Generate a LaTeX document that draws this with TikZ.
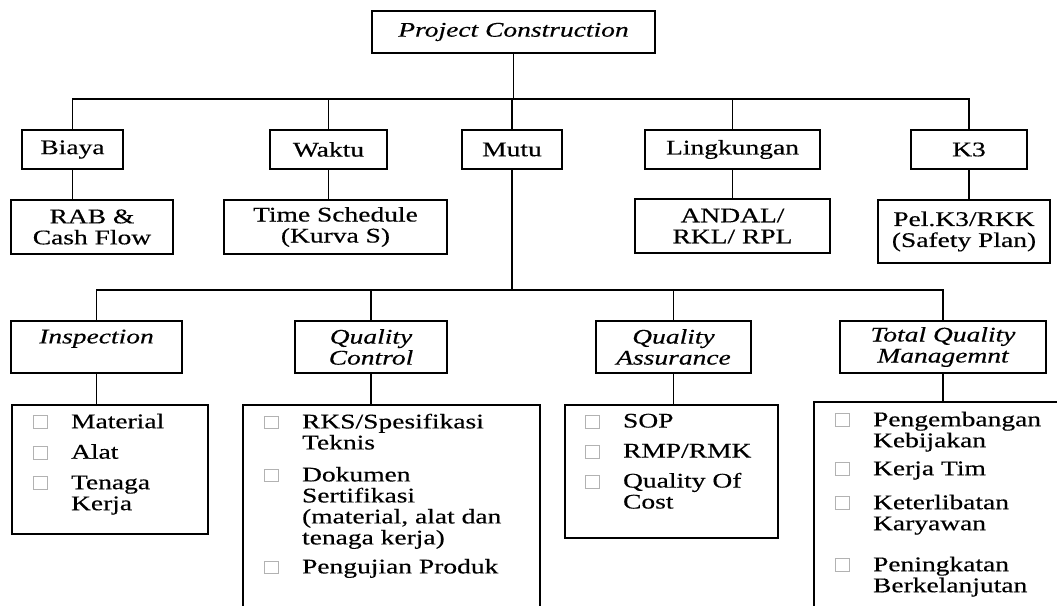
\documentclass[tikz,border=0pt]{standalone}
\usepackage{fontspec}
\setmainfont{Liberation Serif}[FakeStretch=1.32,FakeBold=0.4]

\newcommand{\cbox}{{\fboxsep=0pt\fboxrule=0.5pt\color{gray!60}\fbox{\hbox to 8.2pt{\vrule height 7.2pt depth 0pt width 0pt\hfil}}}}
\newcommand{\itm}{\makebox[23pt][l]{\cbox}}
\newcommand{\ind}{\hspace*{23pt}}

\begin{document}
\begin{tikzpicture}[x=0.6pt,y=-0.6pt,line width=0.9pt,
  dims/.style 2 args={minimum width=#1*0.6pt,minimum height=#2*0.6pt}]
  \tikzstyle{box}=[draw,inner sep=0pt,align=center,font=\fontsize{12.5}{12.6}\selectfont]
  \tikzstyle{itbox}=[box,font=\fontsize{12.5}{12.6}\selectfont\itshape]
  \tikzstyle{listbox}=[draw,inner sep=0pt,anchor=north west]
  \tikzstyle{list}=[inner sep=0pt,anchor=north west,align=left,font=\fontsize{12.5}{12.6}\selectfont]
  \useasboundingbox (0,0) rectangle (1057,605);
  \clip (0,0) rectangle (1057,605);

  % top
  \node[itbox,dims={283}{42}] (pc) at (513.5,32) {Project Construction};

  % level 2
  \node[box,dims={101}{39}] (biaya) at (72.5,149.5) {Biaya};
  \node[box,dims={117}{39}] (waktu) at (328.5,149.5) {Waktu};
  \node[box,dims={100}{39}] (mutu) at (512,149.5) {Mutu};
  \node[box,dims={175}{39}] (lingk) at (732.5,149.5) {Lingkungan};
  \node[box,dims={116}{39}] (kthree) at (969,149.5) {K3};
  \coordinate (bus1) at (0,99);
  \draw (pc.south) -- (pc.south |- bus1);
  \foreach \n in {biaya,waktu,mutu,lingk,kthree}
    \draw (\n.north) |- (pc.south |- bus1);

  % level 3
  \node[box,dims={162}{54}] (rab) at (92,227) {RAB \&\\Cash Flow};
  \node[box,dims={223}{54}] (sched) at (335.5,227) {Time Schedule\\(Kurva S)};
  \node[box,dims={195}{54}] (andal) at (732.5,226) {ANDAL/\\RKL/ RPL};
  \node[box,dims={172}{63}] (safety) at (964,231.5) {Pel.K3/RKK\\(Safety Plan)};
  \foreach \a/\b in {biaya/rab,waktu/sched,lingk/andal,kthree/safety}
    \draw (\a.south) -- (\a.south |- \b.north);

  % level 4 (mutu)
  \node[itbox,dims={171}{52}] (insp) at (96.5,347) {Inspection\\\phantom{I}};
  \node[itbox,dims={152}{52}] (qc) at (371,347) {Quality\\Control};
  \node[itbox,dims={155}{52}] (qa) at (673.5,347) {Quality\\Assurance};
  \node[itbox,dims={206}{52}] (tqm) at (943,347) {Total Quality\\Managemnt};
  \coordinate (bus2) at (0,290);
  \draw (mutu.south) -- (mutu.south |- bus2);
  \foreach \n in {insp,qc,qa,tqm}
    \draw (\n.north) |- (mutu.south |- bus2);

  % level 5 lists
  \node[listbox,dims={196}{129}] (ilist) at (11,404) {};
  \node[listbox,dims={297}{230}] (qclist) at (242,404) {};
  \node[listbox,dims={213}{133}] (qalist) at (564,404) {};
  \node[listbox,dims={270}{230}] (tqmlist) at (813,401) {};
  \foreach \a/\b in {insp/ilist,qc/qclist,qa/qalist,tqm/tqmlist}
    \draw (\a.south) -- (\a.south |- \b.north);

  \node[list] (itext) at (32,413) {\itm Material\\[5.7pt] \itm Alat\\[5.7pt] \itm Tenaga\\ \ind Kerja};
  \node[list] (qctext) at (263,413) {\itm RKS/Spesifikasi\\ \ind Teknis\\[6.6pt] \itm Dokumen\\ \ind Sertifikasi\\ \ind (material, alat dan\\ \ind tenaga kerja)\\[4.8pt] \itm Pengujian Produk};
  \node[list] (qatext) at (584,413) {\itm SOP\\[5.4pt] \itm RMP/RMK\\[5.4pt] \itm Quality Of\\ \ind Cost};
  \node[list] (tqmtext) at (834,411) {\itm Pengembangan\\ \ind Kebijakan\\[4.2pt] \itm Kerja Tim\\[7.8pt] \itm Keterlibatan\\ \ind Karyawan\\[12pt] \itm Peningkatan\\ \ind Berkelanjutan};
\end{tikzpicture}
\end{document}
